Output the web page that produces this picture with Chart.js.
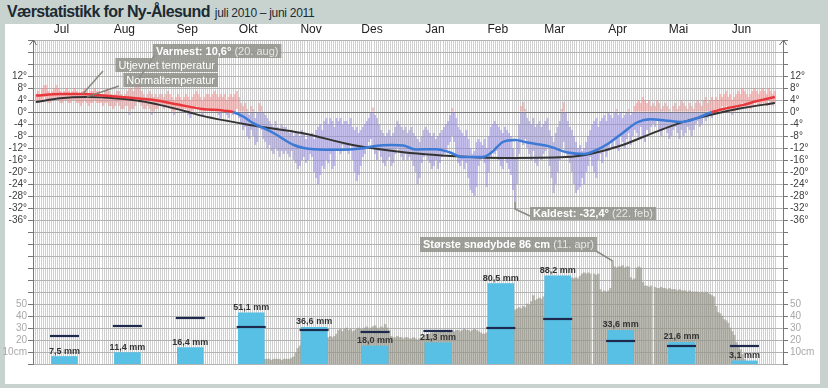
<!DOCTYPE html>
<html><head><meta charset="utf-8">
<script src="https://cdn.jsdelivr.net/npm/chart.js@4.4.1/dist/chart.umd.min.js"></script>
<style>
html,body{margin:0;padding:0;}
body{width:828px;height:388px;background:#c8d3cf;position:relative;overflow:hidden;font-family:"Liberation Sans",Arial,sans-serif;}
#panel{position:absolute;left:5px;top:24px;width:815px;height:360px;background:#fff;}
#title{position:absolute;left:7px;top:2px;white-space:nowrap;color:#1b2a33;line-height:20px;}
#title b{font-size:16px;letter-spacing:-0.6px;}
#title span{font-size:12px;letter-spacing:-0.3px;margin-left:5px;}
#wrap{position:absolute;left:0;top:0;width:828px;height:388px;}
</style></head>
<body>
<div id="panel"></div>
<div id="title"><b>Værstatistikk for Ny-Ålesund</b><span>juli 2010 – juni 2011</span></div>
<div id="wrap"><canvas id="c" width="828" height="388"></canvas></div>
<script>
const months = ['Jul','Aug','Sep','Okt','Nov','Des','Jan','Feb','Mar','Apr','Mai','Jun'];
const daysInMonth = [31,31,30,31,30,31,31,28,31,30,31,30];
const precipMm = [7.5,11.4,16.4,51.1,36.6,18.0,21.3,80.5,88.2,33.6,21.6,3.1];
const precipNormal = [28,38,46,37,34,32,33,36,45,23,18,18];

const tempMax = [
 6,7,6,8,9,9,7,6,7,8,9,8,7,6,7,8,7,6,7,8,7,6,6,7,8,7,6,7,7,8,7,
 7,6,6,7,8,7,6,5,6,7,7,6,5,6,7,8,8,7,9,10.6,9,7,6,5,6,7,6,5,6,5,6,
 6,5,6,7,6,5,4,5,6,5,4,5,6,5,4,5,6,7,6,5,4,5,6,6,5,6,7,6,5,6,
 5,6,4,5,6,5,6,7,5,3,2,3,1,-1,2,1,-2,0,3,2,0,-1,-2,-3,-4,-5,-3,-5,-6,-4,-5,
 -5,-6,-7,-6,-8,-7,-7,-8,-6,-7,-9,-8,-8,-7,-9,-6,-5,-4,-6,-3,-2,-4,-2,-3,-5,-2,-3,-2,-4,-3,
 -3,-4,-2,-5,-6,-5,-7,-6,-5,-4,-3,-2,0,1.5,-1,-2,-4,-6,-7,-8,-7,-6,-8,-7,-5,-3,-4,-5,-6,-5,-7,
 -6,-5,-7,-8,-9,-10,-8,-6,-5,-6,-7,-8,-7,-9,-8,-7,-6,-5,-4,-3,-1,1.3,0,-2,-5,-6,-7,-8,-6,-9,-12,
 -14,-13,-10,-9,-10,-11,-9,-12,-8,-5,-4,-3,-4,-5,-6,-7,-5,-6,-7,-8,-12,-15,-10,-4,2,3.3,1,-2,
 -3,-4,-2,-5,-4,-3,-5,-4,-3,-2,-6,-8,-10,-7,-5,-3,1,3.3,0,-3,-5,-6,-8,-10,-12,-11,-13,-12,-10,-8,-6,
 -4,-3,-2,-5,-3,-2,-1,-3,0,-1,-2,0,1,-1,0,-2,-1,0,1,-1,0,2,3,4,3,5,4,3,4,2,
 3,2,4,3,1,2,3,2,1,0,2,3,1,2,4,3,2,1,3,2,1,3,4,3,2,4,5,3,4,5,4,
 5,4,6,5,6,7,5,6,4,5,6,7,6,8,7,6,5,6,7,8,7,6,7,8,7,6,8,7,6,7
];
const tempMin = [
 3,3,4,4,5,4,3,3,4,4,5,4,3,3,4,4,3,3,4,4,3,3,2,3,4,3,2,3,3,4,3,
 3,3,2,3,3,2,2,1,2,3,2,1,1,2,2,-1,1,1,2,4,3,2,1,1,2,1,-1,0,1,1,2,
 2,1,2,2,1,0,-1,1,1,0,0,1,1,-1,-2,0,1,2,1,0,-1,0,1,1,0,0,1,0,-1,-2,
 0,1,-1,-2,0,-1,0,1,-2,-4,-6,-5,-8,-9,-6,-8,-11,-10,-5,-6,-9,-10,-12,-11,-13,-14,-12,-13,-15,-13,-14,
 -13,-14,-15,-13,-16,-17,-19,-18,-16,-15,-17,-16,-14,-15,-20,-22,-24,-21,-18,-19,-16,-17,-14,-19,-18,-13,-12,-14,-11,-12,
 -12,-14,-11,-16,-20,-23,-21,-18,-15,-14,-12,-10,-9,-11,-14,-16,-13,-15,-17,-18,-16,-15,-18,-17,-14,-12,-13,-15,-16,-14,-16,
 -15,-16,-18,-20,-24,-22,-17,-15,-14,-16,-17,-19,-18,-16,-19,-17,-15,-14,-13,-11,-10,-8,-10,-14,-17,-18,-16,-19,-17,-22,-26,
 -27,-28,-25,-18,-16,-15,-17,-25,-20,-15,-12,-14,-13,-16,-18,-19,-15,-17,-19,-21,-26,-30,-24,-14,-10,-11,-9,-12,
 -14,-16,-13,-17,-18,-15,-16,-14,-13,-12,-18,-22,-27,-24,-20,-16,-12,-10,-13,-15,-17,-20,-24,-27,-26,-25,-22,-24,-20,-18,-15,
 -18,-20,-22,-16,-14,-17,-12,-15,-13,-10,-12,-9,-11,-13,-8,-10,-12,-9,-7,-11,-8,-6,-7,-9,-5,-8,-10,-6,-7,-5,
 -4,-5,-3,-6,-8,-6,-5,-7,-9,-8,-6,-5,-7,-9,-6,-8,-7,-5,-6,-8,-6,-4,-3,-5,-4,-2,-3,-2,-1,-2,0,
 1,0,1,2,1,2,0,1,-1,0,2,1,2,3,2,1,2,1,2,3,3,2,2,3,3,2,4,3,2,3
];

const smoothDays = [0,12,23,33,45,58,70,82,92,97,102,107,117,127,132,137,148,160,167,175,181,187,197,204,210,220,224,230,236,242,252,262,270,276,282,289,296,303,310,318,325,333,340,348,356,364];
const smoothTemp = [5.5,6.0,6.0,5.5,4.8,4.0,2.5,1.0,0.5,0,-1.5,-3.7,-7,-11,-12,-12.4,-12.6,-12.2,-11.3,-11,-11.2,-12.5,-12.4,-13.5,-15,-15,-13.7,-10,-9.3,-10.2,-11.3,-13.5,-14,-12.7,-10.5,-7,-3.5,-2.4,-2.8,-3.3,-2.2,0,1.2,2.3,3.8,5];

const normalDays = [0,12,25,40,52,62,75,82,107,131,156,181,214,230,261,274,289,305,319,332,348,364];
const normalTemp = [3.3,4.6,5.0,4.5,3.6,2.2,0,-1.3,-4.5,-7,-11,-13.4,-15,-15.3,-15,-13.8,-11,-6.7,-3.3,-1,1.3,3];

const snowFirstDay = 108;
const snowDepth = [
 2,3,3,4,4,
 4,4,4,3,4,4,4,4,3,4,4,4,4,5,6,
 9,13,15,
 16,17,18,18,19,20,20,21,21,22,22,21,22,22,23,
 22,23,25,28,29,27,29,30,28,29,27,28,29,30,29,
 29,30,31,29,30,31,32,30,29,31,30,33,30,28,
 23,22,22,23,22,22,21,22,22,21,
 21,22,21,20,21,22,22,23,
 24,25,26,26,27,26,27,28,27,26,27,27,28,
 27,28,28,27,28,29,28,28,27,28,29,28,27,26,25,
 25,26,27,28,30,32,33,35,34,36,37,38,40,42,44,
 45,46,47,46,48,47,50,49,52,57,53,54,55,54,56,58,
 60,62,63,65,66,68,68,69,70,71,70,71,72,
 71,72,71,73,75,76,75,76,75,
 null,
 75,74,75,62,60,61,60,61,63,
 86,
 81,80,81,81,82,80,81,81,72,70,71,80,81,80,68,
 65,65,64,65,
 null,
 64,63,63,64,63,63,62,63,62,62,62,61,62,61,61,61,60,61,60,60,
 60,60,59,60,59,60,59,58,57,56,
 48,43,42,40,37,36,34,30,27,24,18,15,12,8,4,2
];

const tempRange = {min:-84, max:24, step:4};
const snowMax = 270, precipMax = 324;

// derived positions
const monthStart = [];
daysInMonth.reduce((acc,d)=>{monthStart.push(acc);return acc+d;},0);
const labelDay = monthStart.map(s=>s+13);
const barDay = monthStart.map(s=>s+14.5);
const nDays = tempMax.length;

const warm=[], cold=[];
for(let d=0; d<nDays; d++){
  const hi=tempMax[d], lo=tempMin[d];
  if(hi>0) warm.push({x:d+0.5, y:[Math.max(0,lo),hi]});
  if(lo<0) cold.push({x:d+0.5, y:[lo,Math.min(0,hi)]});
}
const snowData = snowDepth.map((v,i)=>({x:snowFirstDay+i+0.5, y:v}));
const precipData = precipMm.map((v,i)=>({x:barDay[i], y:v}));
const normPData = precipNormal.map((v,i)=>({x:barDay[i], y:v}));
const smoothData = smoothDays.map((d,i)=>({x:d+0.5, y:smoothTemp[i]}));
const normalData = normalDays.map((d,i)=>({x:d+0.5, y:normalTemp[i]}));

const FONT='"Liberation Sans", Arial, sans-serif';
Chart.defaults.font.family = FONT;

function fmt(v){return v.toFixed(1).replace('.',',');}
function tempLabel(v){
  if(v<=12 && v>=-36) return v+'°';
  const s = Math.round((v-tempRange.min)/(tempRange.max-tempRange.min)*snowMax);
  if(s>=10 && s<=50 && v<-40) return s===10?'10cm':String(s);
  return '';
}
function tempTicks(scale){
  const t=[]; for(let v=tempRange.max; v>=tempRange.min; v-=tempRange.step) t.push({value:v});
  scale.ticks=t;
}
function labelColor(ctx){ return ctx.tick && ctx.tick.value < -40 ? '#a8a8a8' : '#404040'; }

function drawBox(ctx, x, y, h, parts, alignRight){
  let w=0;
  parts.forEach(p=>{ctx.font=p.f; p.w=ctx.measureText(p.t).width; w+=p.w;});
  const pad=3, bw=w+pad*2, bx=alignRight? x-bw : x;
  ctx.fillStyle='rgba(145,145,137,0.85)';
  ctx.fillRect(bx,y,bw,h);
  let cx=bx+pad;
  ctx.textAlign='left'; ctx.textBaseline='middle';
  parts.forEach(p=>{ctx.font=p.f; ctx.fillStyle=p.c; ctx.fillText(p.t,cx,y+h/2+0.5); cx+=p.w;});
}

const overlay = {
  id:'overlay',
  afterDatasetsDraw(chart){
    const ctx=chart.ctx, xs=chart.scales.x, yT=chart.scales.yT, yP=chart.scales.yP, yS=chart.scales.ySnow;
    const ca=chart.chartArea;
    ctx.save();
    // precipitation labels
    ctx.font='bold 9px '+FONT; ctx.fillStyle='#333'; ctx.textAlign='center'; ctx.textBaseline='alphabetic';
    precipMm.forEach((v,i)=>ctx.fillText(fmt(v)+' mm', xs.getPixelForValue(barDay[i]), yP.getPixelForValue(v)-3));
    // axis arrows
    ctx.strokeStyle='#666'; ctx.lineWidth=1;
    [ca.left, ca.right].forEach(ax=>{
      ctx.beginPath(); ctx.moveTo(ax-3.5,ca.top+5); ctx.lineTo(ax+0.5,ca.top); ctx.lineTo(ax+3.5,ca.top+5); ctx.stroke();
    });
    // anchors from data
    let iMax=0,iMin=0;
    tempMax.forEach((v,i)=>{if(v>tempMax[iMax]) iMax=i;});
    tempMin.forEach((v,i)=>{if(v<tempMin[iMin]) iMin=i;});
    let iSnow=0; snowDepth.forEach((v,i)=>{if(v!==null && v>snowDepth[iSnow]) iSnow=i;});
    const pMax={x:xs.getPixelForValue(iMax+0.5), y:yT.getPixelForValue(tempMax[iMax])};
    const pMin={x:xs.getPixelForValue(iMin+0.5), y:yT.getPixelForValue(tempMin[iMin])};
    const pSnow={x:xs.getPixelForValue(snowFirstDay+iSnow+0.5), y:yS.getPixelForValue(snowDepth[iSnow])};
    const pSm={x:xs.getPixelForValue(smoothData[2].x), y:yT.getPixelForValue(smoothData[2].y)};
    const pNo={x:xs.getPixelForValue(normalData[2].x), y:yT.getPixelForValue(normalData[2].y)};
    ctx.strokeStyle='rgba(125,125,118,0.9)'; ctx.lineWidth=1.5;
    const line=(pts)=>{ctx.beginPath(); ctx.moveTo(pts[0][0],pts[0][1]); pts.slice(1).forEach(p=>ctx.lineTo(p[0],p[1])); ctx.stroke();};
    line([[155,55],[pMax.x,pMax.y]]);
    line([[103,71],[pSm.x,pSm.y]]);
    line([[119,86],[pNo.x,pNo.y]]);
    line([[pMin.x,pMin.y],[pMin.x,209],[530,216]]);
    line([[596,251],[pSnow.x,pSnow.y]]);
    const B='bold 11px '+FONT, N='11px '+FONT;
    drawBox(ctx,153,44,14,[{t:'Varmest: '+fmt(tempMax[iMax])+'°',f:B,c:'#fff'},{t:' (20. aug)',f:N,c:'#e6e6e6'}]);
    drawBox(ctx,218,58,14,[{t:'Utjevnet temperatur',f:N,c:'#fff'}],true);
    drawBox(ctx,218,73,14,[{t:'Normaltemperatur',f:N,c:'#fff'}],true);
    drawBox(ctx,530,207,13,[{t:'Kaldest: -32,4°',f:B,c:'#fff'},{t:' (22. feb)',f:N,c:'#e6e6e6'}]);
    drawBox(ctx,420,237,15,[{t:'Største snødybde '+snowDepth[iSnow]+' cm',f:B,c:'#fff'},{t:' (11. apr)',f:N,c:'#e6e6e6'}]);
    ctx.restore();
  }
};

new Chart(document.getElementById('c'), {
  type:'bar',
  data:{datasets:[
    {type:'bar', data:snowData, xAxisID:'x', yAxisID:'ySnow', backgroundColor:'rgba(150,150,138,0.62)', barPercentage:1, categoryPercentage:1, grouped:false, order:10},
    {type:'bar', data:warm, xAxisID:'x', yAxisID:'yT', backgroundColor:'rgba(240,135,135,0.5)', barPercentage:0.95, categoryPercentage:1, grouped:false, order:9},
    {type:'bar', data:cold, xAxisID:'x', yAxisID:'yT', backgroundColor:'rgba(140,130,220,0.5)', barPercentage:0.95, categoryPercentage:1, grouped:false, order:9},
    {type:'bar', data:precipData, xAxisID:'x', yAxisID:'yP', backgroundColor:'#57c0e4', barThickness:26, grouped:false, order:5},
    {type:'scatter', data:normPData, xAxisID:'x', yAxisID:'yP', pointStyle:'line', pointRadius:14.5, pointBorderWidth:2.2, borderColor:'#1d2a4d', pointBorderColor:'#1d2a4d', order:4},
    {type:'line', data:normalData, xAxisID:'x', yAxisID:'yT', borderColor:'#333', borderWidth:2, pointRadius:0, cubicInterpolationMode:'monotone', fill:false, order:3},
    {type:'line', data:smoothData, xAxisID:'x', yAxisID:'yT', borderWidth:2.5, pointRadius:0, cubicInterpolationMode:'monotone', fill:false, order:2,
      borderColor:'#e8383d',
      segment:{borderColor:c=>((c.p0.parsed.y+c.p1.parsed.y)/2>=0?'#e8383d':'#3d7ad6')}}
  ]},
  options:{
    responsive:false, animation:false, devicePixelRatio:1,
    layout:{padding:0},
    plugins:{legend:{display:false}, tooltip:{enabled:false}},
    scales:{
      x:{type:'linear', position:'bottom', min:-1, max:368.5, offset:false,
        afterBuildTicks:s=>{const t=[];for(let i=0;i<=nDays;i++)t.push({value:i});s.ticks=t;},
        afterFit:s=>{s.height=24;},
        grid:{color:'#cfcfcf', lineWidth:1, drawTicks:false, offset:false}, border:{display:false},
        ticks:{display:false, autoSkip:false}},
      xTop:{type:'linear', position:'top', min:-1, max:368.5, offset:false,
        afterBuildTicks:s=>{s.ticks=labelDay.map(v=>({value:v}));},
        afterFit:s=>{s.height=40;},
        grid:{display:false, drawTicks:false, offset:false}, border:{display:false},
        ticks:{autoSkip:false, maxRotation:0, padding:3, color:'#222', font:{size:12},
          callback:(v,i)=>months[i]}},
      yT:{type:'linear', position:'left', min:tempRange.min, max:tempRange.max,
        afterBuildTicks:tempTicks, afterFit:s=>{s.width=33;},
        grid:{color:c=>c.tick&&c.tick.value===0?'#7a7a7a':'#b4b4b4', tickColor:'#777', tickLength:5, drawTicks:true},
        border:{display:true, color:'#777'},
        ticks:{autoSkip:false, padding:1, font:{size:10}, color:labelColor, callback:v=>tempLabel(v)}},
      yTR:{type:'linear', position:'right', min:tempRange.min, max:tempRange.max,
        afterBuildTicks:tempTicks, afterFit:s=>{s.width=45;},
        grid:{drawOnChartArea:false, tickColor:'#777', tickLength:5, drawTicks:true},
        border:{display:true, color:'#777'},
        ticks:{autoSkip:false, padding:2, font:{size:10}, color:labelColor, callback:v=>tempLabel(v)}},
      ySnow:{type:'linear', display:false, min:0, max:snowMax},
      yP:{type:'linear', display:false, min:0, max:precipMax}
    }
  },
  plugins:[overlay]
});
</script>
</body></html>
